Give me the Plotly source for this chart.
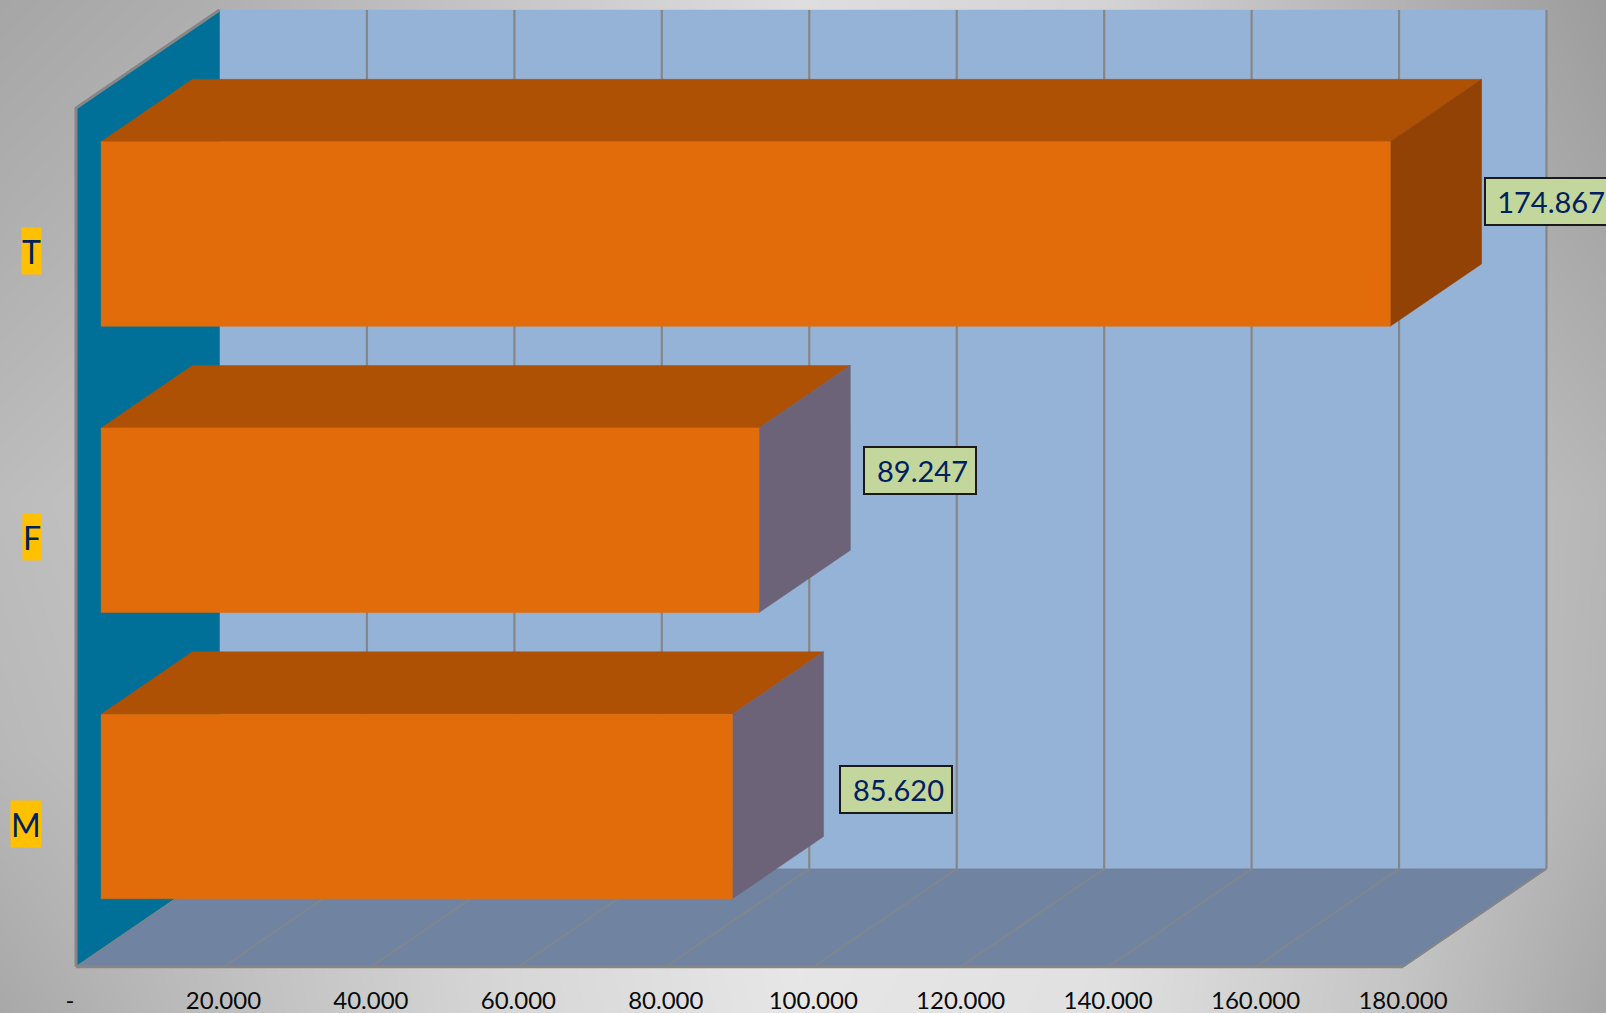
import plotly.graph_objects as go

# ---- data ----
categories = ["M", "F", "T"]
values = [85620, 89247, 174867]
value_labels = ["85.620", "89.247", "174.867"]
tick_values = [0, 20000, 40000, 60000, 80000, 100000, 120000, 140000, 160000, 180000]
tick_labels = ["-\u00a0\u00a0", "20.000", "40.000", "60.000", "80.000", "100.000",
               "120.000", "140.000", "160.000", "180.000"]

# ---- oblique projection and style ----
W, H = 1606, 1013
PX_L, PX_R, PX_T, PX_B = 76, 1403, 108, 966.8
VMAX = 180000
NCAT = len(categories)
SX = (PX_R - PX_L) / VMAX
SY = (PX_B - PX_T) / NCAT
DEPTH_X = 143.5 / SX     # value units per full depth
DEPTH_Y = 98 / SY        # category units per full depth
BAR_D0, BAR_D1 = 0.175, 0.811
BAR_H = 0.645

WALL, SIDEWALL, FLOOR = "#95B3D7", "#007099", "#7084A2"
GRID = "#868686"
FRONT, TOP = "#E36C0A", "#AE5104"
side_colors = ["#6C6378", "#6C6378", "#924204"]
label_xshift = [107, 104, 94]
label_yshift = [17, 50, 32]
label_widths = [96, 96, 112]

# background grey levels
bg_x = [0, 200, 500, 800, 1100, 1400, 1606]
bg_y = [0, 250, 500, 750, 1013]
bg_z = [
    [0xA6, 0xAE, 0xC6, 0xDE, 0xD4, 0xB2, 0x9C],
    [0xB0, 0xBA, 0xD0, 0xE4, 0xD8, 0xB8, 0xA8],
    [0xBC, 0xC6, 0xD8, 0xEA, 0xE0, 0xC4, 0xB6],
    [0xB8, 0xC2, 0xD8, 0xEA, 0xE2, 0xC8, 0xB4],
    [0xA8, 0xBC, 0xD6, 0xE6, 0xE0, 0xC4, 0xA6],
]


def proj(v, c, d):
    return v + d * DEPTH_X, c + d * DEPTH_Y


def poly(points, color):
    xs, ys = zip(*[proj(*p) for p in points])
    return go.Scatter(x=list(xs) + [xs[0]], y=list(ys) + [ys[0]], mode="lines", fill="toself",
                      fillcolor=color, line=dict(color=color, width=0.5), xaxis="x2", yaxis="y2",
                      hoverinfo="skip", showlegend=False)


def seg(points, width, color=GRID):
    xs, ys = zip(*[proj(*p) for p in points])
    return go.Scatter(x=list(xs), y=list(ys), mode="lines", line=dict(color=color, width=width),
                      xaxis="x2", yaxis="y2", hoverinfo="skip", showlegend=False)


fig = go.Figure()
fig.add_trace(go.Heatmap(x=bg_x, y=bg_y, z=bg_z, zmin=0, zmax=255, zsmooth="best", showscale=False,
                         colorscale=[[0, "#000000"], [1, "#FFFFFF"]], hoverinfo="skip",
                         xaxis="x", yaxis="y"))

# walls and floor
fig.add_trace(poly([(0, 0, 1), (VMAX, 0, 1), (VMAX, NCAT, 1), (0, NCAT, 1)], WALL))
fig.add_trace(poly([(0, 0, 0), (VMAX, 0, 0), (VMAX, 0, 1), (0, 0, 1)], FLOOR))
fig.add_trace(poly([(0, 0, 0), (0, 0, 1), (0, NCAT, 1), (0, NCAT, 0)], SIDEWALL))

# gridlines
for t in tick_values[1:]:
    fig.add_trace(seg([(t, 0, 1), (t, NCAT, 1)], 2.2))
    fig.add_trace(seg([(t, 0, 0), (t, 0, 1)], 1.5))

# wall outline
fig.add_trace(seg([(0, 0, 0), (0, NCAT, 0), (0, NCAT, 1)], 3))
fig.add_trace(seg([(0, 0, 0), (VMAX, 0, 0)], 3))
fig.add_trace(seg([(VMAX, 0, 0), (VMAX, 0, 1)], 1.5))
fig.add_trace(seg([(0, 0, 0), (0, 0, 1)], 1.2))

# bars
for i, v in enumerate(values):
    lo = i + 0.5 - BAR_H / 2
    hi = i + 0.5 + BAR_H / 2
    fig.add_trace(poly([(0, hi, BAR_D0), (v, hi, BAR_D0), (v, hi, BAR_D1), (0, hi, BAR_D1)], TOP))
    fig.add_trace(poly([(v, lo, BAR_D0), (v, lo, BAR_D1), (v, hi, BAR_D1), (v, hi, BAR_D0)], side_colors[i]))
    fig.add_trace(poly([(0, lo, BAR_D0), (v, lo, BAR_D0), (v, hi, BAR_D0), (0, hi, BAR_D0)], FRONT))

FONT = "Lato, 'Open Sans', sans-serif"
annotations = []
for i, cat in enumerate(categories):
    annotations.append(dict(
        x=0, y=i + 0.5, xref="x2", yref="y2", text=cat, showarrow=False, xanchor="right", yanchor="middle",
        xshift=-34, font=dict(family=FONT, size=32, color="#002060"), bgcolor="#FFC000", borderpad=0, height=46))
    x0, y0 = proj(values[i], i + 0.5, BAR_D0)
    annotations.append(dict(
        x=x0, y=y0, xref="x2", yref="y2", text=value_labels[i], showarrow=False,
        xanchor="left", yanchor="middle", xshift=label_xshift[i], yshift=label_yshift[i],
        font=dict(family=FONT, size=29, color="#002060"), bgcolor="#C3D69B",
        bordercolor="#1A1A1A", borderwidth=2, borderpad=7, align="right", width=label_widths[i], height=31))

fig.update_layout(
    template="none",
    width=W, height=H, margin=dict(l=0, r=0, t=0, b=0, pad=0), autosize=False,
    paper_bgcolor="#BFBFBF", plot_bgcolor="rgba(0,0,0,0)", showlegend=False,
    xaxis=dict(domain=[0, 1], range=[0, W], visible=False, fixedrange=True),
    yaxis=dict(domain=[0, 1], range=[H, 0], visible=False, fixedrange=True),
    xaxis2=dict(domain=[0, 1], range=[-PX_L / SX, (W - PX_L) / SX], anchor="free",
                position=(H - PX_B) / H, showgrid=False, zeroline=False,
                showline=False, tickmode="array", tickvals=tick_values, ticktext=tick_labels, ticks="outside",
                ticklen=12, tickcolor="rgba(0,0,0,0)", tickangle=0, fixedrange=True,
                tickfont=dict(family=FONT, size=24, color="#0A0A0A")),
    yaxis2=dict(domain=[0, 1], range=[-(H - PX_B) / SY, PX_B / SY], anchor="x2", visible=False, fixedrange=True),
    annotations=annotations,
)
fig.write_html("out.html", config=dict(displayModeBar=False),
               post_script="document.body.style.margin='0';document.body.style.overflow='hidden';")
